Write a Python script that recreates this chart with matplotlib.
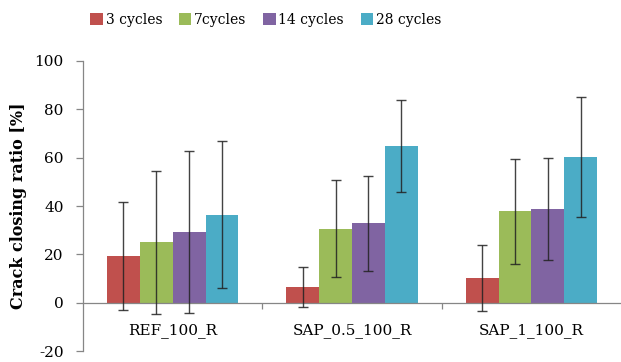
import matplotlib
matplotlib.use("Agg")
import matplotlib.pyplot as plt
import numpy as np
from matplotlib.ticker import FixedLocator

categories = ["REF_100_R", "SAP_0.5_100_R", "SAP_1_100_R"]
series_names = ["3 cycles", "7cycles", "14 cycles", "28 cycles"]
means = [
    [19.4, 6.7, 10.3],   # 3 cycles
    [25.0, 30.7, 37.9],  # 7 cycles
    [29.2, 32.8, 38.8],  # 14 cycles
    [36.4, 64.9, 60.3],  # 28 cycles
]
errors = [
    [22.3, 8.3, 13.6],
    [29.5, 19.9, 21.7],
    [33.6, 19.6, 21.0],
    [30.4, 19.1, 24.7],
]
colors = ["#C0504D", "#9BBB59", "#8064A2", "#4BACC6"]
yticks = [-20, 0, 20, 40, 60, 80, 100]

plt.rcParams["font.family"] = ["DejaVu Serif"]

fig = plt.figure(figsize=(6.21, 3.62), dpi=100)
ax = fig.add_axes([0.1337, 0.030, 0.8663, 0.8015])

x = np.arange(len(categories))
width = 0.183
offsets = (np.arange(4) - 1.5) * width
axis_gray = "#868686"

for i in range(4):
    ax.bar(x + offsets[i], means[i], width=width, color=colors[i],
           label=series_names[i], zorder=2)
    ax.errorbar(x + offsets[i], means[i], yerr=errors[i], fmt="none",
                ecolor="#222222", elinewidth=1.0, capsize=3.5, capthick=1.0,
                alpha=0.85, zorder=3)

ax.set_xlim(-0.5, 2.5)
ax.set_ylim(-20, 100)
ax.set_yticks(yticks)
ax.set_yticklabels([str(v) for v in yticks], fontsize=11)

ax.spines["top"].set_visible(False)
ax.spines["right"].set_visible(False)
ax.spines["bottom"].set_position(("data", 0))
for s in ("left", "bottom"):
    ax.spines[s].set_color(axis_gray)
    ax.spines[s].set_linewidth(0.9)

ax.tick_params(axis="y", direction="out", length=5, color=axis_gray,
               width=0.9, pad=9)
ax.set_xticks(x)
ax.set_xticklabels(categories, fontsize=11)
ax.tick_params(axis="x", which="major", length=0, pad=15)
ax.xaxis.set_minor_locator(FixedLocator([0.5, 1.5]))
ax.tick_params(axis="x", which="minor", direction="out", length=4,
               color=axis_gray, width=0.9)

ax.set_ylabel("Crack closing ratio [%]", fontsize=11.5, fontweight="bold",
              labelpad=5)

handles, labels = ax.get_legend_handles_labels()
fig.legend(handles, labels, loc="center", bbox_to_anchor=(0.428, 0.945),
           ncol=4, frameon=False, fontsize=10, handlelength=0.9,
           handleheight=0.9, handletextpad=0.2, columnspacing=1.2)

fig.savefig("out.png", dpi=100)
